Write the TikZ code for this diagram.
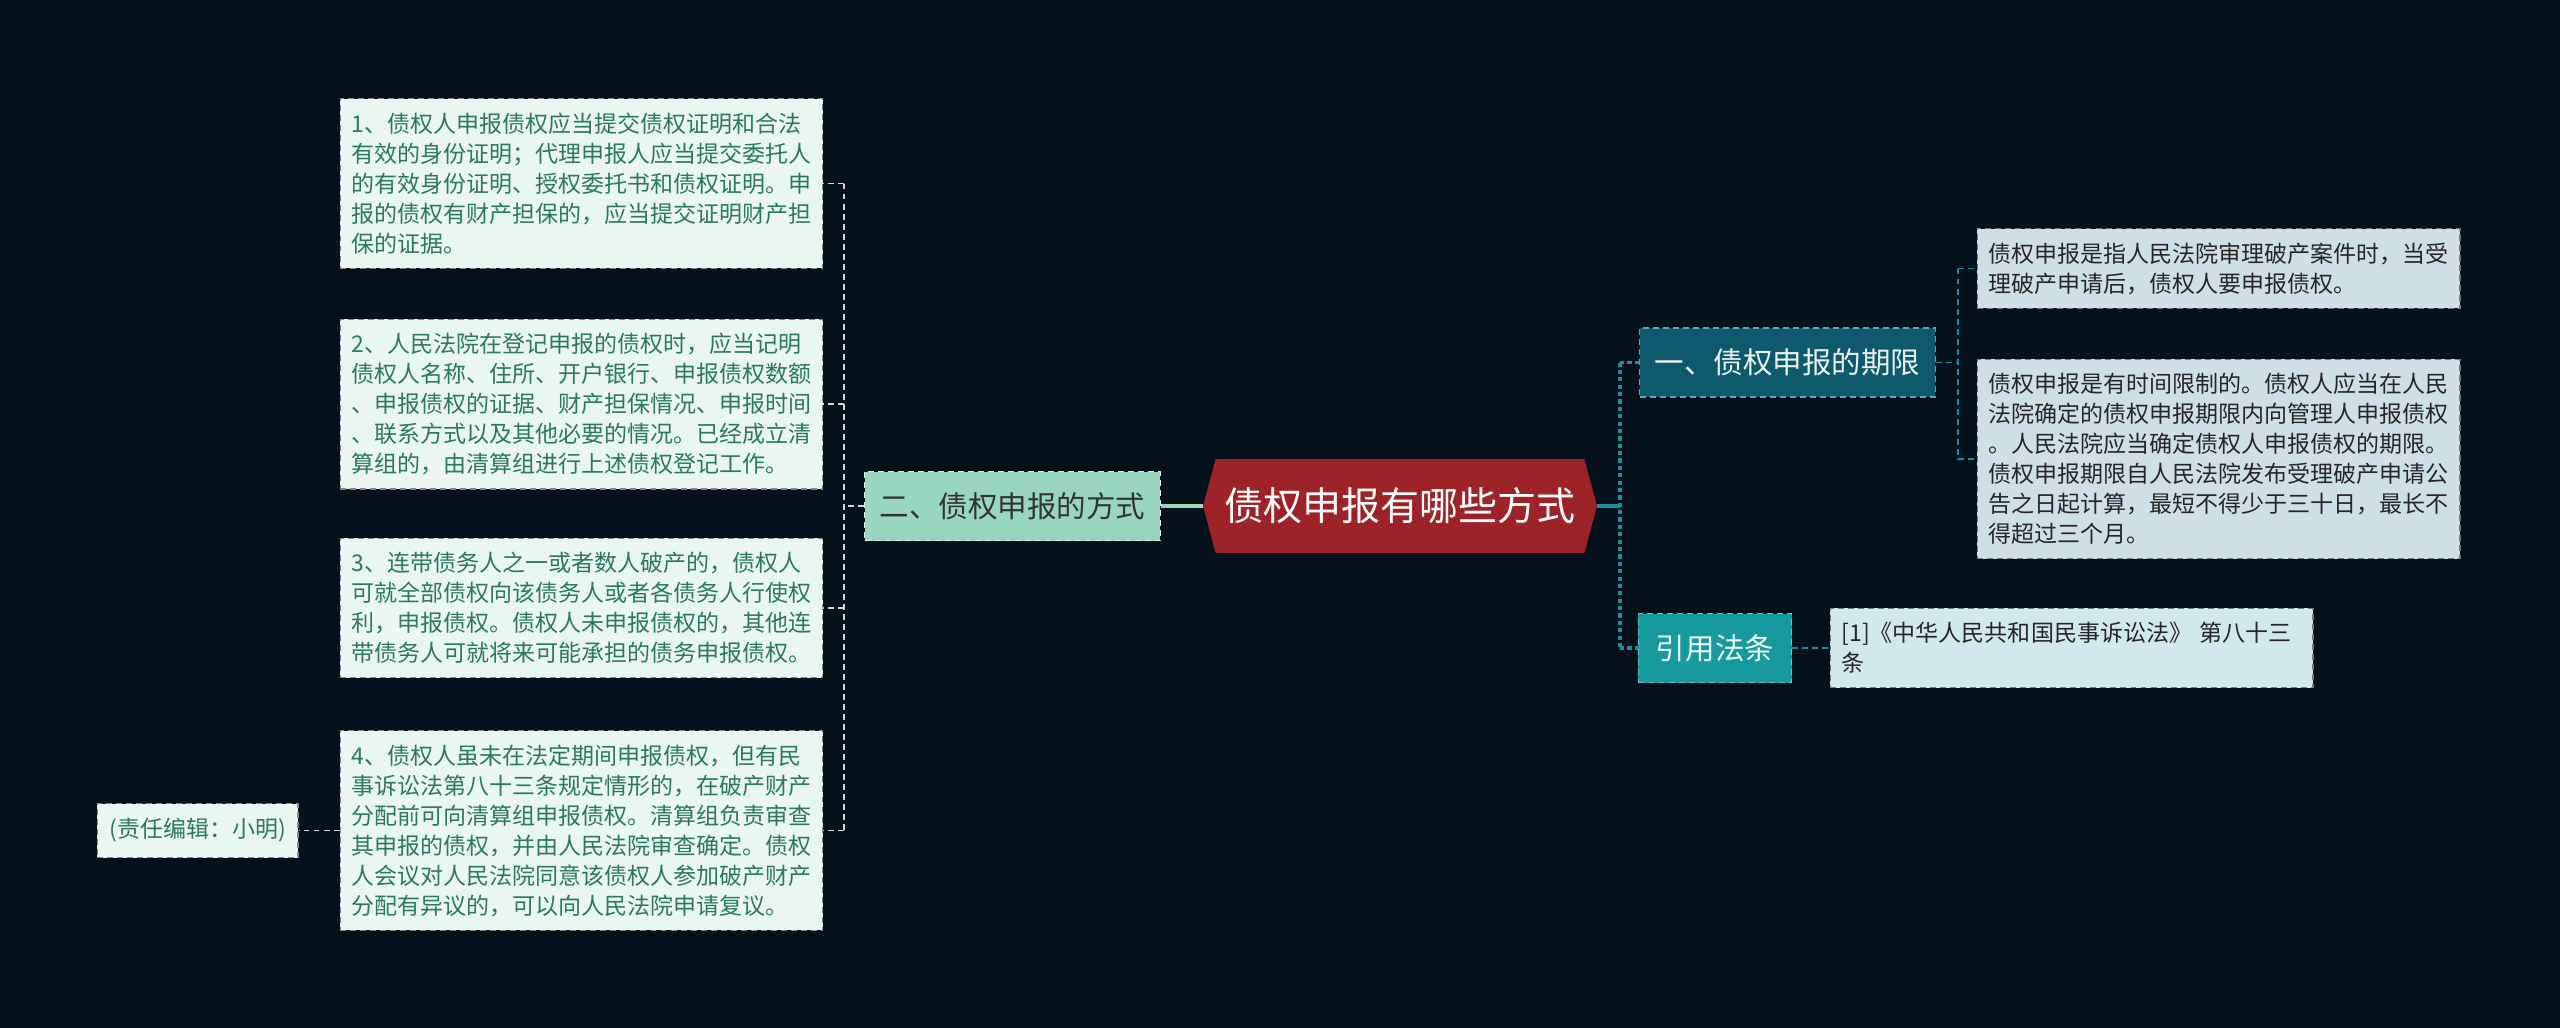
\documentclass[tikz,border=0pt]{standalone}
\usepackage{fontspec}
\setmainfont{Noto Sans CJK SC}
\usetikzlibrary{positioning,shapes.symbols}

\definecolor{bgnavy}{HTML}{06121B}
\definecolor{rootred}{HTML}{9E2328}
\definecolor{mintfill}{HTML}{98D6C0}
\definecolor{mintleaf}{HTML}{E9F6F1}
\definecolor{mintink}{HTML}{2B7A5C}
\definecolor{deepteal}{HTML}{0E5A6C}
\definecolor{midteal}{HTML}{179A9E}
\definecolor{blueleaf}{HTML}{CEE0E5}
\definecolor{cyanleaf}{HTML}{D2E9EB}
\definecolor{leftwire}{HTML}{CADCD5}
\definecolor{rightwire}{HTML}{1E8E9E}

\tikzset{
  dashbox/.style={dash pattern=on 3.4pt off 2.3pt, line width=0.6pt},
  leafnote/.style={dashbox, rectangle, align=left, text width=9.2cm,
    inner xsep=0.23cm, inner ysep=0.28cm,
    font=\fontsize{13.1}{17.07}\selectfont},
  mintnote/.style={leafnote, fill=mintleaf, draw=mintleaf!55!black, text=mintink},
  bluenote/.style={leafnote, fill=blueleaf, draw=blueleaf!55!black, text=black!85},
  branchbox/.style={dashbox, rectangle, minimum height=1.38cm, inner xsep=0.3cm,
    font=\fontsize{16.8}{20}\selectfont},
  leftwires/.style={leftwire, dashbox, line width=1pt},
  rightwires/.style={rightwire, dashbox, line width=1pt},
  trunkwire/.style={rightwire, dash pattern=on 2.4pt off 1.8pt, line width=2pt}
}

\begin{document}
\begin{tikzpicture}[x=0.02cm, y=-0.02cm]
  \useasboundingbox[fill=bgnavy] (0,0) rectangle (2560,1028);

  % centre
  \node[signal, signal to=west and east, signal pointer angle=150,
        fill=rootred, text=white, minimum width=7.88cm, minimum height=1.88cm,
        inner xsep=0pt, font=\fontsize{22.2}{26}\selectfont] (root) at (1400,506) {债权申报有哪些方式};

  % left side
  \node[branchbox, fill=mintfill, draw=mintfill!40!white, text=black!80,
        left=0.84cm of root] (fangshi) {二、债权申报的方式};
  \coordinate (lj) at (844,506);

  \node[mintnote] (l1) at (581.5,183.5) {1、债权人申报债权应当提交债权证明和合法\\有效的身份证明；代理申报人应当提交委托人\\的有效身份证明、授权委托书和债权证明。申\\报的债权有财产担保的，应当提交证明财产担\\保的证据。};
  \node[mintnote] (l2) at (581.5,404) {2、人民法院在登记申报的债权时，应当记明\\债权人名称、住所、开户银行、申报债权数额\\、申报债权的证据、财产担保情况、申报时间\\、联系方式以及其他必要的情况。已经成立清\\算组的，由清算组进行上述债权登记工作。};
  \node[mintnote] (l3) at (581.5,608) {3、连带债务人之一或者数人破产的，债权人\\可就全部债权向该债务人或者各债务人行使权\\利，申报债权。债权人未申报债权的，其他连\\带债务人可就将来可能承担的债务申报债权。};
  \node[mintnote] (l4) at (581.5,830.5) {4、债权人虽未在法定期间申报债权，但有民\\事诉讼法第八十三条规定情形的，在破产财产\\分配前可向清算组申报债权。清算组负责审查\\其申报的债权，并由人民法院审查确定。债权\\人会议对人民法院同意该债权人参加破产财产\\分配有异议的，可以向人民法院申请复议。};
  \node[dashbox, fill=mintleaf, draw=mintleaf!55!black, text=mintink,
        minimum height=1.08cm, inner xsep=0.24cm,
        font=\fontsize{13.1}{17}\selectfont,
        left=0.82cm of l4] (editor) {(责任编辑：小明)};

  % right side
  \node[branchbox, fill=deepteal, draw=deepteal!60!white, text=white!92!deepteal] (qixian) at (1787.5,362.5) {一、债权申报的期限};
  \node[branchbox, fill=midteal, draw=midteal!60!white, text=white!92!midteal, inner xsep=0.35cm] (fatiao) at (1715,648) {引用法条};
  \coordinate (rj) at (1620,506);
  \coordinate (qj) at (1958,362.5);

  \node[bluenote] (r1) at (2218.5,268.5) {债权申报是指人民法院审理破产案件时，当受\\理破产申请后，债权人要申报债权。};
  \node[bluenote] (r2) at (2218.5,459) {债权申报是有时间限制的。债权人应当在人民\\法院确定的债权申报期限内向管理人申报债权\\。人民法院应当确定债权人申报债权的期限。\\债权申报期限自人民法院发布受理破产申请公\\告之日起计算，最短不得少于三十日，最长不\\得超过三个月。};
  \node[bluenote, fill=cyanleaf] (r3) at (2071.5,648) {[1]《中华人民共和国民事诉讼法》 第八十三\\条};

  % wires
  \draw[mintfill, line width=2pt] (root.west) -- (fangshi.east);
  \draw[leftwires] (fangshi.west) -- (lj);
  \draw[leftwires] (lj |- l1.east) -- (lj |- l4.east);
  \foreach \n in {l1,l2,l3,l4}
    \draw[leftwires] (lj |- \n.east) -- (\n.east);
  \draw[leftwires] (l4.west) -- (editor.east);

  \draw[rightwire, line width=2pt] (root.east) -- (rj);
  \draw[trunkwire] (rj |- qixian.west) -- (rj |- fatiao.west);
  \draw[trunkwire] (rj |- qixian.west) -- (qixian.west);
  \draw[trunkwire] (rj |- fatiao.west) -- (fatiao.west);
  \draw[rightwires] (qixian.east) -- (qj);
  \draw[rightwires] (qj |- r1.west) -- (qj |- r2.west);
  \foreach \n in {r1,r2}
    \draw[rightwires] (qj |- \n.west) -- (\n.west);
  \draw[rightwires] (fatiao.east) -- (r3.west);
\end{tikzpicture}
\end{document}
